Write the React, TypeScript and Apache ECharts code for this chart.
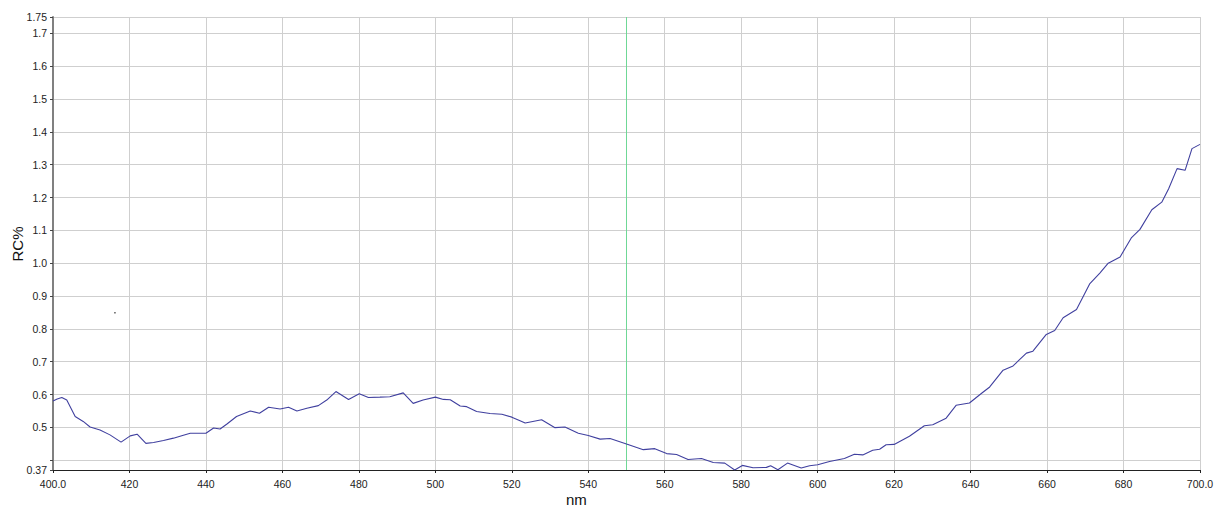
import React, { useEffect, useRef } from "react";
import * as echarts from "echarts";

const wavelength = [
  400, 401.1, 402.3, 403.6, 405.8, 407.9, 409.7, 412.3, 414.9, 417.8,
  420.2, 422, 424.3, 426.3, 428.9, 431.5, 434.1, 435.9, 440, 442,
  443.7, 445.5, 448, 451.6, 454, 456.4, 459.4, 461.6, 463.8, 466.4,
  469.4, 471.6, 474, 477.3, 480.1, 482.5, 485.5, 488.1, 491.6, 494.2,
  496.8, 500, 502.1, 503.9, 506.5, 508.2, 510.8, 514.3, 517.4, 520,
  522, 523.5, 527.8, 531.3, 533.9, 537.4, 540, 543.1, 545.7, 550,
  554.4, 557.4, 560.5, 563.1, 566.1, 569.6, 572.7, 575.7, 578.3, 580.3,
  583.1, 586.6, 587.7, 589.6, 592.1, 595.7, 597.9, 600, 603.1, 607,
  609.6, 611.8, 614.4, 616.2, 617.9, 620, 624, 627.9, 630.1, 633.6,
  636.2, 639.7, 642.8, 645, 648.5, 651.1, 654.6, 656.3, 659.8, 662,
  664.2, 667.7, 671.2, 673.8, 676, 679.1, 682.1, 684.3, 687.4, 690,
  691.8, 694, 696.1, 697.9, 700,
];

const rcPercent = [
  0.58, 0.586, 0.591, 0.583, 0.533, 0.518, 0.501, 0.492, 0.477, 0.455,
  0.474, 0.479, 0.451, 0.454, 0.46, 0.467, 0.476, 0.482, 0.482, 0.498,
  0.495, 0.51, 0.533, 0.55, 0.543, 0.561, 0.556, 0.561, 0.55, 0.558,
  0.566, 0.583, 0.609, 0.585, 0.602, 0.591, 0.592, 0.593, 0.605, 0.573,
  0.583, 0.592, 0.585, 0.584, 0.565, 0.563, 0.548, 0.542, 0.54, 0.531,
  0.521, 0.513, 0.523, 0.499, 0.501, 0.482, 0.475, 0.464, 0.466, 0.449,
  0.432, 0.435, 0.42, 0.417, 0.402, 0.405, 0.393, 0.391, 0.37, 0.384,
  0.377, 0.378, 0.383, 0.371, 0.391, 0.376, 0.383, 0.386, 0.396, 0.405,
  0.418, 0.416, 0.43, 0.433, 0.447, 0.448, 0.473, 0.505, 0.508, 0.528,
  0.567, 0.574, 0.603, 0.623, 0.674, 0.687, 0.726, 0.732, 0.783, 0.795,
  0.834, 0.859, 0.938, 0.97, 1.0, 1.019, 1.078, 1.103, 1.163, 1.186,
  1.227, 1.288, 1.283, 1.349, 1.362,
];

const strayPoint = [416.2, 0.849];
const markerWavelength = 550;

const xMin = 400;
const xMax = 700;
const xStep = 20;
const yMin = 0.37;
const yMax = 1.75;
const yStep = 0.1;
const yLabelValues = [0.37, 0.5, 0.6, 0.7, 0.8, 0.9, 1.0, 1.1, 1.2, 1.3, 1.4, 1.5, 1.6, 1.7, 1.75];
const xEdgeLabels = ["400.0", "700.0"];
const xAxisTitle = "nm";
const yAxisTitle = "RC%";

const FONT = "'Liberation Sans', Arial, sans-serif";

export default function App() {
  const ref = useRef<HTMLDivElement>(null);

  useEffect(() => {
    if (!ref.current) return;
    const chart = echarts.init(ref.current, undefined, { renderer: "svg" });
    const lineData = wavelength.map((w, i) => [w, rcPercent[i]]);
    const markerData = [
      [markerWavelength, yMin],
      [markerWavelength, yMax],
    ];

    chart.setOption({
      animation: false,
      backgroundColor: "#ffffff",
      grid: {
        left: 53,
        right: 21,
        top: 17,
        bottom: 39,
        containLabel: false,
        outerBoundsMode: "none",
      },
      xAxis: {
        type: "value",
        min: xMin,
        max: xMax,
        interval: xStep,
        axisLine: { show: true, lineStyle: { color: "#222222", width: 1 } },
        axisTick: { show: true, length: 3, lineStyle: { color: "#222222" } },
        axisLabel: {
          color: "#222222",
          fontFamily: FONT,
          fontSize: 10.5,
          margin: 8,
          showMinLabel: true,
          showMaxLabel: true,
          formatter: (v: number) => {
            if (Math.abs(v - xMin) < 1e-6) return xEdgeLabels[0];
            if (Math.abs(v - xMax) < 1e-6) return xEdgeLabels[1];
            return String(Math.round(v));
          },
        },
        splitLine: { show: true, lineStyle: { color: "#cfcfcf", width: 1 } },
      },
      yAxis: {
        type: "value",
        min: yMin,
        max: yMax,
        minInterval: yStep,
        maxInterval: yStep,
        splitNumber: 14,
        axisLine: { show: true, lineStyle: { color: "#808080", width: 2 } },
        axisTick: { show: true, length: 3, lineStyle: { color: "#444444" } },
        axisLabel: {
          color: "#222222",
          fontFamily: FONT,
          fontSize: 10.5,
          margin: 6,
          showMinLabel: true,
          showMaxLabel: true,
          formatter: (v: number) => {
            const hit = yLabelValues.find((t) => Math.abs(t - v) < 1e-6);
            if (hit === undefined) return "";
            if (Math.abs(hit - 0.37) < 1e-6 || Math.abs(hit - 1.75) < 1e-6) return String(hit);
            return hit.toFixed(1);
          },
        },
        splitLine: { show: true, lineStyle: { color: "#cfcfcf", width: 1 } },
      },
      graphic: [
        {
          type: "text",
          left: 566,
          top: 492,
          style: { text: xAxisTitle, fontFamily: FONT, fontSize: 15, fill: "#111111" },
        },
        {
          type: "text",
          x: 17,
          y: 244,
          rotation: Math.PI / 2,
          style: {
            text: yAxisTitle,
            fontFamily: FONT,
            fontSize: 15,
            fill: "#111111",
            textAlign: "center",
            textVerticalAlign: "middle",
          },
        },
      ],
      series: [
        {
          type: "line",
          data: markerData,
          symbol: "none",
          silent: true,
          lineStyle: { color: "#6fd896", width: 1 },
          z: 2,
        },
        {
          type: "line",
          data: lineData,
          symbol: "none",
          smooth: false,
          lineStyle: { color: "#40409f", width: 1.1 },
          z: 3,
        },
        {
          type: "scatter",
          data: [strayPoint],
          symbol: "rect",
          symbolSize: 1.5,
          itemStyle: { color: "#333333" },
          z: 2,
        },
      ],
    });

    return () => chart.dispose();
  }, []);

  return (
    <div
      ref={ref}
      style={{ position: "fixed", left: 0, top: 0, width: 1221, height: 509 }}
    />
  );
}
